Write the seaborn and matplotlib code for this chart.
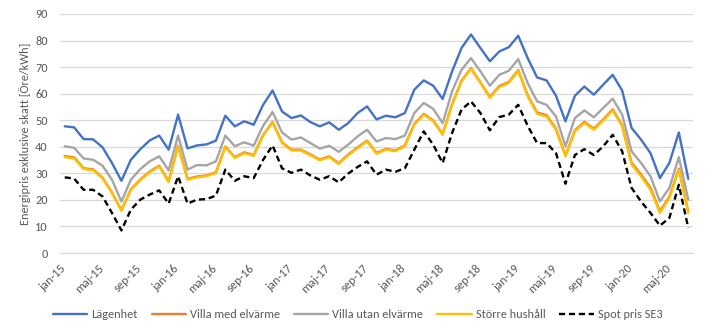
import matplotlib
matplotlib.use("Agg")
import matplotlib.pyplot as plt
from matplotlib import font_manager as fm
import seaborn as sns
import pandas as pd
import numpy as np
from matplotlib.lines import Line2D

# ---- data (monthly, jan-2015 .. jul-2020) ----
lagenhet = [47.7, 47.3, 42.9, 42.8, 39.8, 33.9, 27.2, 35.1, 39.1, 42.4, 44.2, 38.9,
            52.1, 39.4, 40.5, 40.9, 42.3, 51.7, 47.7, 49.6, 48.3, 55.8, 61.2, 53.3,
            50.8, 51.8, 49.3, 47.7, 49.2, 46.4, 48.9, 52.7, 55.2, 50.3, 51.7, 51.1,
            52.7, 61.5, 65.0, 63.0, 58.0, 68.4, 77.2, 82.3, 77.2, 72.2, 75.9, 77.5,
            81.8, 73.4, 66.1, 65.0, 59.2, 49.6, 59.2, 62.7, 59.6, 63.4, 67.1, 61.2,
            47.1, 42.7, 37.6, 28.2, 33.9, 45.4, 27.9]
villa_med = [36.5, 36.0, 31.9, 31.5, 28.4, 22.8, 16.1, 24.0, 27.7, 30.7, 32.9, 27.0,
             40.4, 27.9, 28.8, 29.2, 30.4, 40.1, 36.1, 37.9, 36.9, 44.4, 49.4, 41.7,
             38.9, 38.9, 37.1, 35.2, 36.4, 33.8, 37.1, 39.8, 42.3, 37.7, 39.2, 38.6,
             40.5, 48.6, 52.4, 49.9, 44.8, 56.1, 64.9, 69.6, 64.3, 58.7, 62.9, 64.4,
             68.9, 59.4, 52.9, 51.9, 46.8, 36.7, 46.2, 49.4, 46.8, 50.3, 54.1, 48.1,
             34.0, 29.6, 24.6, 15.7, 21.2, 31.8, 15.6]
villa_utan = [40.2, 39.6, 35.6, 35.1, 32.9, 27.6, 19.4, 27.6, 31.6, 34.5, 36.4, 31.1,
              44.2, 31.4, 33.1, 33.0, 34.5, 44.2, 40.2, 41.7, 40.4, 47.9, 53.1, 45.4,
              42.7, 43.5, 41.4, 39.3, 40.4, 38.1, 40.8, 43.9, 46.4, 42.0, 43.3, 42.9,
              44.2, 52.7, 56.5, 54.3, 48.9, 60.9, 69.0, 73.4, 68.4, 63.0, 67.1, 68.6,
              73.0, 64.0, 57.1, 55.8, 51.4, 40.2, 50.8, 53.7, 51.1, 54.6, 58.1, 52.1,
              38.3, 33.9, 28.9, 19.4, 24.5, 36.1, 20.1]
storre = [36.1, 35.6, 31.6, 31.2, 28.2, 22.6, 15.9, 23.8, 27.4, 30.4, 32.6, 26.7,
          40.2, 27.6, 28.5, 28.9, 30.1, 39.9, 35.8, 37.6, 36.6, 44.2, 49.2, 41.4,
          38.6, 38.6, 36.8, 34.9, 36.1, 33.5, 36.8, 39.5, 42.0, 37.4, 38.9, 38.3,
          40.2, 48.3, 52.1, 49.6, 44.5, 55.8, 64.6, 69.3, 64.0, 58.4, 62.5, 64.0,
          68.6, 59.0, 52.4, 51.4, 46.4, 36.4, 45.8, 49.0, 46.4, 49.9, 53.7, 47.7,
          33.3, 28.9, 23.8, 15.1, 20.7, 31.4, 15.1]
spot = [28.5, 28.0, 23.8, 23.8, 21.3, 15.1, 8.5, 16.3, 20.1, 22.0, 23.6, 18.6,
        28.9, 18.6, 20.1, 20.3, 21.6, 31.4, 27.2, 28.9, 28.2, 35.1, 40.5, 31.9,
        30.2, 31.4, 29.2, 27.6, 28.9, 26.6, 29.9, 32.4, 34.5, 29.5, 31.4, 30.6,
        31.9, 38.9, 45.8, 40.8, 33.9, 45.2, 54.0, 57.1, 52.7, 46.2, 51.2, 52.1,
        55.8, 47.9, 41.4, 41.4, 37.6, 26.1, 36.9, 39.1, 36.9, 40.2, 44.5, 38.3,
        24.5, 19.4, 15.1, 10.3, 13.2, 25.7, 9.4]

series_names = ["Lägenhet", "Villa med elvärme", "Villa utan elvärme", "Större hushåll", "Spot pris SE3"]
series_values = [lagenhet, villa_med, villa_utan, storre, spot]
tick_labels = ["jan-15", "maj-15", "sep-15", "jan-16", "maj-16", "sep-16", "jan-17", "maj-17",
               "sep-17", "jan-18", "maj-18", "sep-18", "jan-19", "maj-19", "sep-19", "jan-20",
               "maj-20"]
y_label = "Energipris exklusive skatt [Öre/kWh]"

colors = ["#4472C4", "#ED7D31", "#A5A5A5", "#FFC000", "#000000"]

# ---- build long table ----
n = len(lagenhet)
rows = []
for name, vals in zip(series_names, series_values):
    for i, v in enumerate(vals):
        rows.append({"month": i + 0.5, "value": v, "series": name})
df = pd.DataFrame(rows)

sns.set_style("white")
available = {f.name for f in fm.fontManager.ttflist}
if "Carlito" in available:
    fam, fs, lfs = "Carlito", 8.8, 8.8
else:
    fam, fs, lfs = "Liberation Sans", 8.0, 7.6
plt.rcParams["font.family"] = [fam, "DejaVu Sans"]
text_col = "#595959"

fig = plt.figure(figsize=(7.13, 3.35), dpi=100)
ax = fig.add_axes([60 / 713, 1 - 253 / 335, (693 - 60) / 713, (253 - 14) / 335])

sns.lineplot(data=df, x="month", y="value", hue="series", hue_order=series_names,
             palette=dict(zip(series_names, colors)), ax=ax, linewidth=1.7, legend=False,
             sort=False)
ax.lines[-1].set_dashes((2.6, 1.6))

ax.set_xlim(0, n)
ax.set_ylim(0, 90)
ax.set_yticks(np.arange(0, 91, 10))
ax.yaxis.grid(True, color="#D9D9D9", linewidth=0.9)
ax.set_axisbelow(True)
for s in ["top", "right", "left"]:
    ax.spines[s].set_visible(False)
ax.spines["bottom"].set_color("#D9D9D9")
ax.spines["bottom"].set_linewidth(0.9)

tick_pos = np.arange(0, len(tick_labels) * 4, 4)
ax.set_xticks(tick_pos)
ax.set_xticklabels(tick_labels, rotation=45, ha="right", va="top", rotation_mode="anchor",
                   fontsize=fs, color=text_col)
ax.tick_params(axis="x", length=4, color="#D9D9D9", width=0.9, pad=3)
ax.tick_params(axis="y", length=0, labelsize=fs, labelcolor=text_col, pad=9)
ax.set_xlabel("")
ax.set_ylabel(y_label, fontsize=fs, color=text_col, labelpad=3)

handles = []
for name, c in zip(series_names, colors):
    if name == "Spot pris SE3":
        h = Line2D([0], [0], color=c, linewidth=1.7, dashes=(2.6, 1.6))
    else:
        h = Line2D([0], [0], color=c, linewidth=1.7)
    handles.append(h)
leg = fig.legend(handles, series_names, loc="center left", bbox_to_anchor=(53 / 713, 1 - 315 / 335),
                 ncol=5, frameon=False, fontsize=lfs, handlelength=2.8, handletextpad=0.33,
                 columnspacing=1.15, borderaxespad=0, borderpad=0)
for t in leg.get_texts():
    t.set_color(text_col)

fig.savefig("out.png", dpi=100)
